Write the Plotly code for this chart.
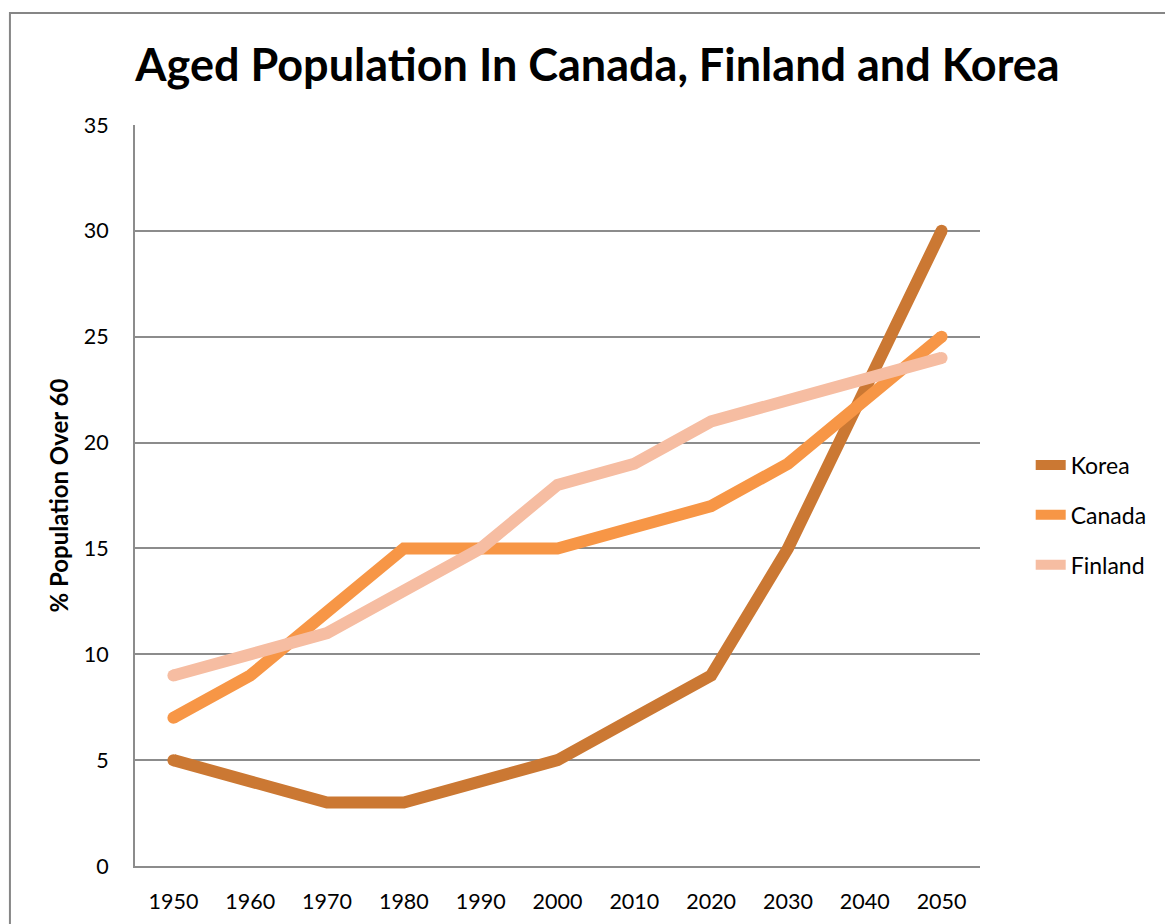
import plotly.graph_objects as go

years = ["1950", "1960", "1970", "1980", "1990", "2000", "2010", "2020", "2030", "2040", "2050"]
korea = [5, 4, 3, 3, 4, 5, 7, 9, 15, 22.5, 30]
canada = [7, 9, 12, 15, 15, 15, 16, 17, 19, 22, 25]
finland = [9, 10, 11, 13, 15, 18, 19, 21, 22, 23, 24]

series = [
    ("Korea", korea, "#CB7833"),
    ("Canada", canada, "#F79646"),
    ("Finland", finland, "#F6BDA2"),
]

font = "Lato, Carlito, 'Open Sans', sans-serif"

fig = go.Figure()
for i, (name, vals, col) in enumerate(series):
    fig.add_trace(go.Scatter(
        x=years, y=vals, name=name, mode="lines",
        line=dict(color=col, width=12),
        legendgroup=str(i),
    ))
    # round caps at both ends of the line
    fig.add_trace(go.Scatter(
        x=[years[0], years[-1]], y=[vals[0], vals[-1]], mode="markers",
        marker=dict(color=col, size=12, line=dict(width=0)),
        showlegend=False, hoverinfo="skip", legendgroup=str(i),
    ))

# page body has an 8px margin, so the plot box is shifted back by 8px
fig.update_layout(
    width=1173, height=924,
    margin=dict(l=127, r=201, t=117, b=66),
    paper_bgcolor="white", plot_bgcolor="white",
    font=dict(family=font, color="black", size=21),
    title=dict(text="<b>Aged Population In Canada, Finland and Korea</b>",
               x=0.5026, xanchor="center", y=0.938, yanchor="middle",
               font=dict(size=45, family=font, color="black")),
    showlegend=True,
    legend=dict(x=1.06, xanchor="left", y=0.4737, yanchor="middle",
                font=dict(size=23), tracegroupgap=17,
                bgcolor="rgba(0,0,0,0)"),
    xaxis=dict(type="category", range=[-0.5, 10.5], showgrid=False,
               showline=True, linecolor="#8c8c8c", linewidth=2,
               ticks="", ticklabelstandoff=15, tickfont=dict(size=21.5)),
    yaxis=dict(range=[0, 35], dtick=5, showgrid=True, gridcolor="#8c8c8c",
               gridwidth=1.5, showline=True, linecolor="#8c8c8c", linewidth=2,
               zeroline=False, ticks="", ticklabelstandoff=20,
               tickfont=dict(size=21.5),
               title=dict(text="<b>% Population Over 60</b>", standoff=8,
                          font=dict(size=24))),
    shapes=[dict(type="rect", xref="paper", yref="paper",
                 x0=-0.148, x1=1.6, y0=-0.5, y1=1.151,
                 line=dict(color="#868686", width=2), layer="below")],
)

fig.write_html("out.html")
